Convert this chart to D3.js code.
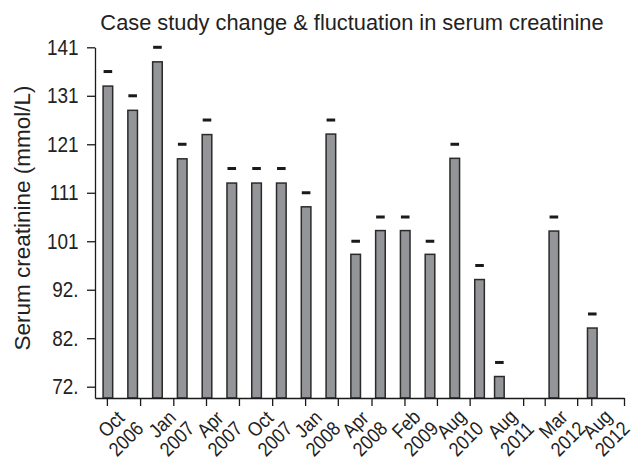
<!DOCTYPE html>
<html>
<head>
<meta charset="utf-8">
<script src="https://cdn.jsdelivr.net/npm/d3@7"></script>
<style>
  body { margin: 0; background: #fff; }
  svg { display: block; font-family: "Liberation Sans", Arial, sans-serif; }
  .axis path, .axis line { stroke: #1a1a1a; stroke-width: 1.3; }
  .axis text { fill: #222; }
</style>
</head>
<body>
<svg width="634" height="462"></svg>
<script>
// measurement order on the x axis (not evenly spread at the end)
const visitPos = [0, 1, 2, 3, 4, 5, 6, 7, 8, 9, 10, 11, 12, 13, 14, 15, 15.8, 18, 19.55];
const creatinine = [133, 128, 138, 118, 123, 113, 113, 113, 108.1, 123.1, 98.3, 103.2, 103.2, 98.3, 118.1, 93.1, 73.1, 103.1, 83.1];
const upperMark = [136, 131, 141, 121, 126, 116, 116, 116, 111, 126, 101, 106, 106, 101, 121, 96, 76, 106, 86];

const dateLabels = [
  ["Oct", "2006"], ["Jan", "2007"], ["Apr", "2007"], ["Oct", "2007"], ["Jan", "2008"],
  ["Apr", "2008"], ["Feb", "2009"], ["Aug", "2010"], ["Aug", "2011"], ["Mar", "2012"], ["Aug", "2012"]
];
const labelPos = [0.13, 2.19, 4.12, 6.14, 8.08, 9.98, 12.03, 13.85, 15.91, 17.97, 19.75];
const xTickPos = [-0.04, 1.3, 2.64, 3.96, 5.29, 6.63, 7.96, 9.28, 10.64, 11.97, 13.28, 14.6, 16.76, 17.63, 18.94, 19.51, 20.83];

const yTicks = [141, 131, 121, 111, 101, 91, 81, 71];
const yTickLabels = ["141", "131", "121", "111", "101", "92.", "82.", "72."];

const svg = d3.select("svg");

const x = d3.scaleLinear()
  .domain([-0.52, 20.83])
  .range([95, 624]);

const y = d3.scaleLinear()
  .domain([68.67, 141])
  .range([398, 47.3]);

// narrow-ish text like the original figure
const narrow = 0.88;

svg.append("text")
  .attr("transform", "translate(352,30) scale(0.97,1)")
  .attr("text-anchor", "middle")
  .attr("font-size", 22.5)
  .attr("fill", "#222")
  .text("Case study change & fluctuation in serum creatinine");

svg.append("text")
  .attr("transform", "translate(22,218) rotate(-90)")
  .attr("text-anchor", "middle")
  .attr("dy", "0.35em")
  .attr("font-size", 22.5)
  .attr("fill", "#222")
  .text("Serum creatinine (mmol/L)");

const bars = visitPos.map((p, i) => ({ pos: p, value: creatinine[i], mark: upperMark[i] }));
const barW = 9.6;

svg.selectAll(".bar")
  .data(bars)
  .enter()
  .append("rect")
  .classed("bar", true)
  .attr("x", d => x(d.pos) - barW / 2)
  .attr("y", d => y(d.value))
  .attr("width", barW)
  .attr("height", d => y.range()[0] - y(d.value))
  .attr("fill", "#939598")
  .attr("stroke", "#2a2a2a")
  .attr("stroke-width", 1.5);

svg.selectAll(".mark")
  .data(bars)
  .enter()
  .append("rect")
  .classed("mark", true)
  .attr("x", d => x(d.pos) - 4.3)
  .attr("y", d => y(d.mark) - 1.5)
  .attr("width", 8.6)
  .attr("height", 3)
  .attr("fill", "#1a1a1a");

const yAxis = svg.append("g")
  .attr("class", "axis")
  .attr("transform", "translate(95,0)")
  .call(d3.axisLeft(y)
    .tickValues(yTicks)
    .tickFormat((d, i) => yTickLabels[i])
    .tickSize(8)
    .tickSizeOuter(0));
yAxis.selectAll(".tick text")
  .attr("font-size", 21.5)
  .attr("font-family", null)
  .attr("x", null)
  .attr("transform", `translate(-16.5,0) scale(${narrow},1)`);

svg.append("g")
  .attr("class", "axis")
  .attr("transform", "translate(0,398)")
  .call(d3.axisBottom(x)
    .tickValues(xTickPos)
    .tickFormat("")
    .tickSize(8)
    .tickSizeOuter(0));

const lab = svg.selectAll(".xlab")
  .data(dateLabels)
  .enter()
  .append("text")
  .classed("xlab", true)
  .attr("transform", (d, i) => `translate(${x(labelPos[i])},424) rotate(-45) scale(${narrow},1)`)
  .attr("text-anchor", "middle")
  .attr("font-size", 20)
  .attr("fill", "#222");

lab.append("tspan")
  .attr("x", 0)
  .attr("dy", "0.35em")
  .text(d => d[0]);
lab.append("tspan")
  .attr("x", 0)
  .attr("dy", 21)
  .text(d => d[1]);
</script>
</body>
</html>
